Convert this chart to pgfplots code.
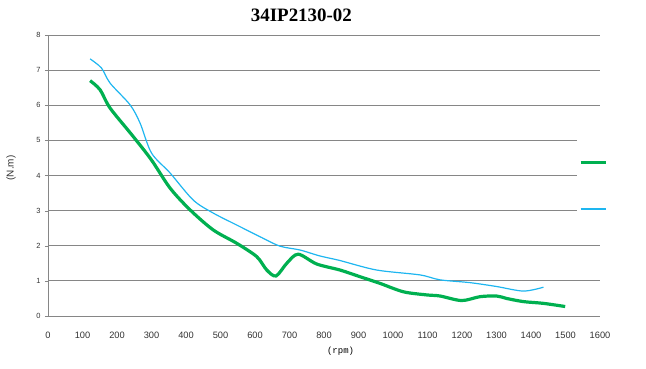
\documentclass[border=0pt]{standalone}
\usepackage{pgfplots}
\pgfplotsset{compat=1.18}
\usepackage{fontspec}
\setmainfont{Liberation Sans}
\newfontfamily\titlefont{Liberation Serif}
\newfontfamily\labmono{Liberation Mono}
\definecolor{cgreen}{RGB}{0,176,80}
\definecolor{cblue}{RGB}{30,182,240}
\definecolor{gridgray}{RGB}{134,134,134}
\definecolor{ticktext}{RGB}{50,50,50}
\begin{document}
\begin{tikzpicture}[x=1bp,y=1bp]
\useasboundingbox (-48,-52) rectangle (598,316);
\begin{axis}[at={(0,0)}, anchor=south west, scale only axis,
  width=552bp, height=281bp,
  xmin=0, xmax=1600, ymin=0, ymax=8,
  xtick={0,100,...,1600}, ytick={0,1,...,8},
  axis lines=left, axis line style={-, draw=gridgray, line width=0.8bp},
  ymajorgrids, grid style={draw=gridgray, line width=0.8bp},
  xtick style={draw=none},
  ytick style={draw=gridgray}, tick align=outside, major tick length=3bp,
  /pgf/number format/assume math mode=true,
  scaled ticks=false,
  x tick label style={/pgf/number format/1000 sep={}, font=\fontsize{9.3}{10}\selectfont, text=ticktext, anchor=base, yshift=-19.5bp},
  y tick label style={font=\fontsize{7.5}{9}\selectfont, text=ticktext, xshift=-1bp},
  xlabel={\labmono\fontsize{9}{10}\selectfont (rpm)},
  xlabel style={at={(rel axis cs:0.53,0)}, anchor=base, yshift=-37bp, inner sep=0pt},
  ylabel={(N.m)},
  ylabel style={font=\fontsize{10}{11}\selectfont, text=ticktext, at={(rel axis cs:-0.067,0.527)}, anchor=center, inner sep=0pt},
  title={\titlefont\bfseries\fontsize{19}{19}\selectfont 34IP2130-02},
  title style={at={(rel axis cs:0.459,1)}, anchor=base, yshift=8bp, inner sep=0pt},
  legend style={at={(rel axis cs:0.958,0.4626)}, anchor=west, fill=white, draw=none,
    inner xsep=2bp, inner ysep=25bp, row sep=41bp, font=\fontsize{6}{6}\selectfont},
  legend cell align=left,
  legend image code/.code={\draw[#1] (0bp,0bp) -- (25bp,0bp);},
  clip=false,
]
\addplot[cgreen, line width=3.2bp, smooth, tension=0.5] coordinates {
(122,6.70) (151,6.44) (180,5.92) (247,5.11) (300,4.44) (354,3.64) (412,3.02)
(479,2.45) (547,2.07) (605,1.69) (634,1.31) (661,1.14) (692,1.50) (725,1.76)
(779,1.48) (846,1.31) (904,1.12) (962,0.93) (1030,0.69) (1098,0.60) (1136,0.57)
(1199,0.44) (1252,0.55) (1300,0.57) (1329,0.50) (1378,0.41) (1436,0.36) (1499,0.27)
};
\addlegendentry{}
\addplot[cblue, line width=1.2bp, smooth, tension=0.5, legend image post style={line width=1.8bp}] coordinates {
(122,7.32) (155,7.06) (180,6.63) (238,6.01) (267,5.49) (300,4.64) (354,4.07)
(421,3.30) (479,2.93) (547,2.59) (614,2.26) (672,1.99) (730,1.88) (788,1.71)
(846,1.58) (952,1.31) (1078,1.17) (1136,1.03) (1223,0.95) (1300,0.84)
(1378,0.71) (1436,0.82)
};
\addlegendentry{}
\end{axis}
\end{tikzpicture}
\end{document}
